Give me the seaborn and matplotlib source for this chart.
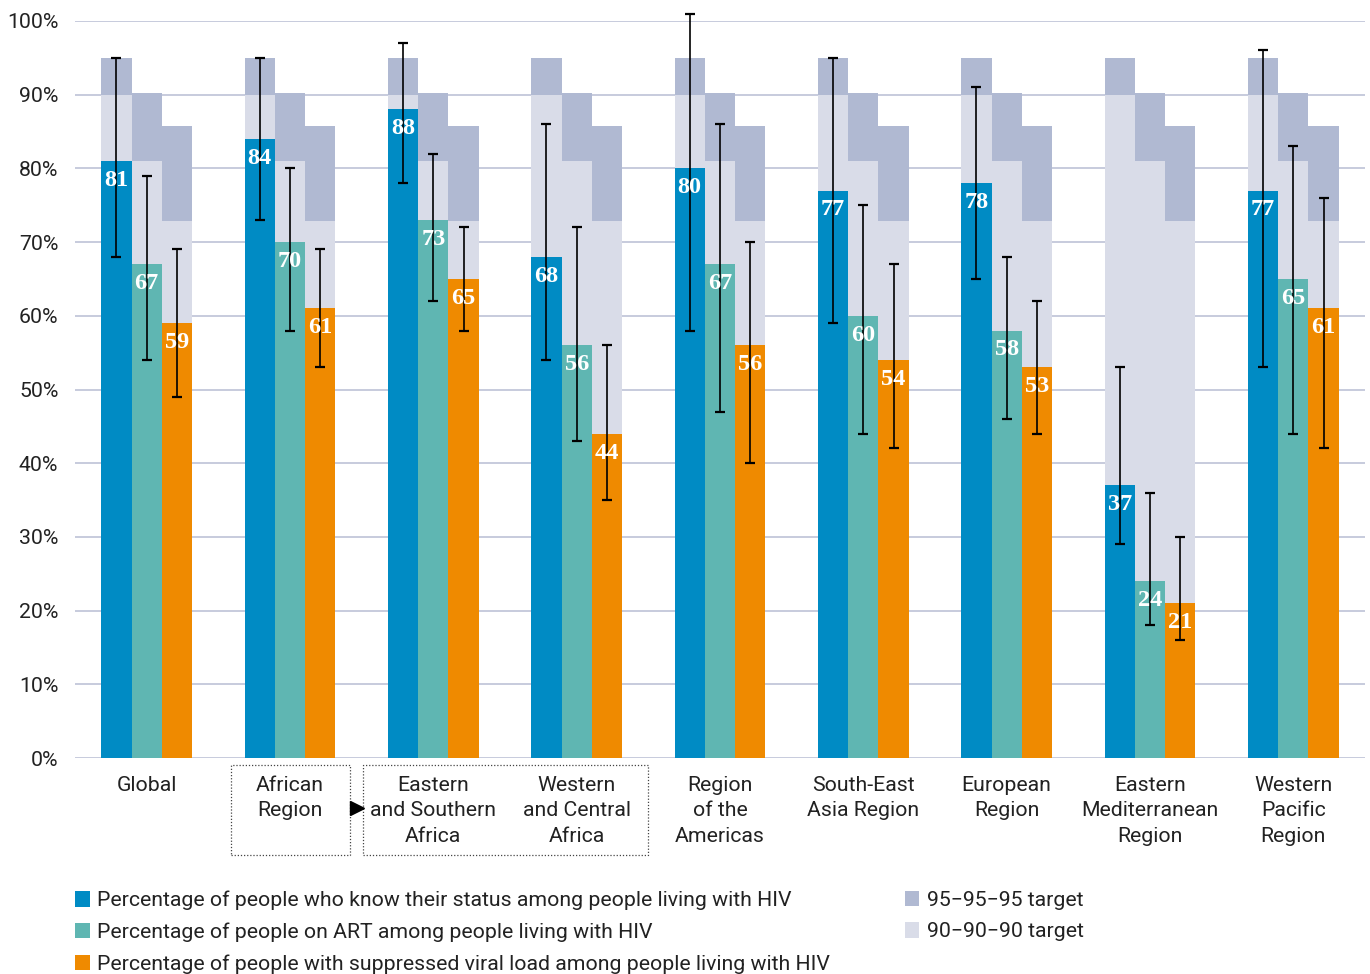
import numpy as np
import pandas as pd
import matplotlib
matplotlib.use("Agg")
import matplotlib.pyplot as plt
import matplotlib.transforms as mtransforms
from matplotlib.patches import Rectangle, Patch
import seaborn as sns

regions = ["Global", "African\nRegion", "Eastern\nand Southern\nAfrica",
           "Western\nand Central\nAfrica", "Region\nof the\nAmericas",
           "South-East\nAsia Region", "European\nRegion", "Eastern\nMediterranean\nRegion",
           "Western\nPacific\nRegion"]
measures = ["Percentage of people who know their status among people living with HIV",
            "Percentage of people on ART among people living with HIV",
            "Percentage of people with suppressed viral load among people living with HIV"]

know = [81, 84, 88, 68, 80, 77, 78, 37, 77]
know_lo = [68, 73, 78, 54, 58, 59, 65, 29, 53]
know_hi = [95, 95, 97, 86, 101, 95, 91, 53, 96]

art = [67, 70, 73, 56, 67, 60, 58, 24, 65]
art_lo = [54, 58, 62, 43, 47, 44, 46, 18, 44]
art_hi = [79, 80, 82, 72, 86, 75, 68, 36, 83]

vls = [59, 61, 65, 44, 56, 54, 53, 21, 61]
vls_lo = [49, 53, 58, 35, 40, 42, 44, 16, 42]
vls_hi = [69, 69, 72, 56, 70, 67, 62, 30, 76]

target95 = [95, 90.25, 85.74]
target90 = [90, 81, 72.9]

colors = ["#008bc4", "#5fb6b2", "#ef8a00"]
c95 = "#b0b9d2"
c90 = "#d9dce8"

sns.set_theme(style="white")
plt.rcParams["font.family"] = ["Roboto", "DejaVu Sans"]
text_color = "#222222"
fs = 15.3

main = pd.DataFrame({
    "region": np.repeat(regions, 3),
    "measure": measures * len(regions),
    "value": np.ravel(np.column_stack([know, art, vls])),
    "lo": np.ravel(np.column_stack([know_lo, art_lo, vls_lo])),
    "hi": np.ravel(np.column_stack([know_hi, art_hi, vls_hi])),
})
t95 = pd.DataFrame({"region": np.repeat(regions, 3), "measure": measures * len(regions),
                    "value": target95 * len(regions)})
t90 = pd.DataFrame({"region": np.repeat(regions, 3), "measure": measures * len(regions),
                    "value": target90 * len(regions)})

fig = plt.figure(figsize=(13.7, 9.74), dpi=100)
ax = fig.add_axes([75 / 1370, 1 - 758 / 974, 1290 / 1370, 737 / 974])

bw = 0.634
common = dict(x="region", y="value", hue="measure", order=regions, hue_order=measures,
              width=bw, gap=0, errorbar=None, legend=False, saturation=1, linewidth=0, ax=ax)
sns.barplot(data=t95, palette={m: c95 for m in measures}, **common)
sns.barplot(data=t90, palette={m: c90 for m in measures}, **common)
n_before = len(ax.containers)
sns.barplot(data=main, palette=dict(zip(measures, colors)), **common)
main_containers = ax.containers[n_before:]

for cont, m in zip(main_containers, measures):
    sub = main[main["measure"] == m].set_index("region").loc[regions]
    xs = [p.get_x() + p.get_width() / 2 for p in cont.patches]
    vals = sub["value"].values
    ax.errorbar(xs, vals, yerr=[vals - sub["lo"].values, sub["hi"].values - vals],
                fmt="none", ecolor="black", elinewidth=1.2, capsize=3.5, capthick=1.6,
                zorder=4, clip_on=False)
    for x, v in zip(xs, vals):
        ax.text(x, v - 1.2, f"{int(v)}", ha="center", va="top", color="white",
                fontsize=17.5, family="Liberation Serif", fontweight="bold", zorder=5)

ax.set_ylim(0, 100)
ax.set_xlim(-0.5, 8.5)
ax.set_yticks(range(0, 101, 10))
ax.set_yticklabels([f"{t}%" for t in range(0, 101, 10)])
ax.yaxis.grid(True, color="#c7cbdd", linewidth=1.4)
ax.set_axisbelow(True)
for s in ax.spines.values():
    s.set_visible(False)
ax.tick_params(axis="y", length=0, pad=12, labelsize=fs, labelcolor=text_color)
ax.tick_params(axis="x", length=0, pad=13, labelsize=fs, labelcolor=text_color)
ax.set_xlabel("")
ax.set_ylabel("")
for lab in ax.get_xticklabels():
    lab.set_linespacing(1.42)

# dotted boxes marking the African sub-regions
trans = mtransforms.blended_transform_factory(ax.transData, ax.transAxes)
ax.add_patch(Rectangle((1 - 0.41, -0.1316), 0.83, 0.1221, transform=trans, fill=False,
                       linestyle=(0, (1, 1.5)), linewidth=0.9, edgecolor="#444444", clip_on=False))
ax.add_patch(Rectangle((2 - 0.49, -0.1316), 1.985, 0.1221, transform=trans, fill=False,
                       linestyle=(0, (1, 1.5)), linewidth=0.9, edgecolor="#444444", clip_on=False))
ax.plot([1.465], [-0.068], marker=">", markersize=10, color="black", transform=trans,
        clip_on=False, linestyle="none")

h1 = [Patch(facecolor=c, edgecolor="none") for c in colors]
leg1 = fig.legend(h1, measures, loc="upper left", bbox_to_anchor=(64 / 1370, 1 - 880 / 974),
                  frameon=False, fontsize=fs, handlelength=0.7, handleheight=0.75,
                  handletextpad=0.35, labelspacing=0.58, borderpad=0, labelcolor=text_color)
h2 = [Patch(facecolor=c95, edgecolor="none"), Patch(facecolor=c90, edgecolor="none")]
leg2 = fig.legend(h2, ["95\u221295\u221295 target", "90\u221290\u221290 target"], loc="upper left",
                  bbox_to_anchor=(894 / 1370, 1 - 880 / 974), frameon=False, fontsize=fs,
                  handlelength=0.7, handleheight=0.75, handletextpad=0.35, labelspacing=0.58,
                  borderpad=0, labelcolor=text_color)

fig.savefig("out.png", dpi=100)
